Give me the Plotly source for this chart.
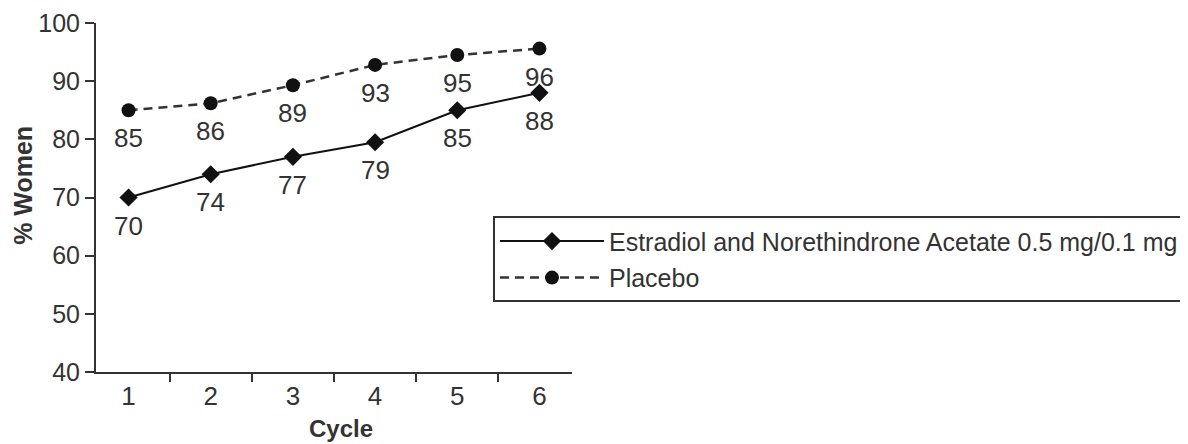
import plotly.graph_objects as go

cycles = ["1", "2", "3", "4", "5", "6"]
estradiol = [70, 74, 77, 79.5, 85, 88]
estradiol_labels = ["70", "74", "77", "79", "85", "88"]
placebo = [85, 86.2, 89.3, 92.8, 94.5, 95.6]
placebo_labels = ["85", "86", "89", "93", "95", "96"]
y_ticks = [40, 50, 60, 70, 80, 90, 100]

FONT = "Liberation Sans, Arial, sans-serif"
TXT = "#333333"

fig = go.Figure()
fig.add_trace(go.Scatter(
    x=cycles, y=estradiol, mode="lines+markers",
    name="Estradiol and Norethindrone Acetate 0.5 mg/0.1 mg",
    legendgroup="a",
    line=dict(color="#111111", width=2),
    marker=dict(symbol="diamond", size=14, color="#111111"),
))
fig.add_trace(go.Scatter(
    x=cycles, y=placebo, mode="lines+markers",
    name="Placebo",
    legendgroup="b",
    line=dict(color="#333333", width=2.5, dash="9px,6px"),
    marker=dict(symbol="circle", size=14, color="#111111"),
))

annotations = []
for ys, labs in [(estradiol, estradiol_labels), (placebo, placebo_labels)]:
    for i, (yv, lab) in enumerate(zip(ys, labs)):
        annotations.append(dict(
            x=i, y=yv, xref="x", yref="y", text=lab, showarrow=False,
            yshift=-28, font=dict(family=FONT, size=26, color=TXT),
        ))

annotations.append(dict(
    x=0.515, y=-0.162, xref="paper", yref="paper", text="<b>Cycle</b>",
    showarrow=False, xanchor="center", yanchor="middle",
    font=dict(family=FONT, size=24, color=TXT),
))
annotations.append(dict(
    x=-0.155, y=0.534, xref="paper", yref="paper", text="<b>% Women</b>",
    showarrow=False, xanchor="center", yanchor="middle", textangle=-90,
    font=dict(family=FONT, size=25, color=TXT),
))

fig.update_layout(
    width=1188, height=444,
    margin=dict(l=88, r=624, t=15, b=80, autoexpand=False),
    paper_bgcolor="white", plot_bgcolor="white",
    font=dict(family=FONT, size=26, color=TXT),
    showlegend=True,
    legend=dict(
        x=0.834, y=0.446, xanchor="left", yanchor="top",
        bordercolor="#333333", borderwidth=2, bgcolor="white",
        font=dict(family=FONT, size=25, color=TXT),
        itemwidth=104, tracegroupgap=1, traceorder="grouped",
    ),
    annotations=annotations,
)
fig.update_xaxes(
    type="category", tickson="boundaries", showline=True, linecolor="#333333",
    linewidth=2, ticks="outside", ticklen=8, tickwidth=2, tickcolor="#333333",
    showgrid=False, zeroline=False, tickfont=dict(family=FONT, size=26, color=TXT),
)
fig.update_yaxes(
    range=[40, 100], tickvals=y_ticks, showline=True, linecolor="#333333",
    linewidth=2, ticks="outside", ticklen=9, tickwidth=2, tickcolor="#333333",
    showgrid=False, zeroline=False, ticklabeloverflow="allow",
    tickfont=dict(family=FONT, size=25, color=TXT),
)

fig.write_html("out.html")
